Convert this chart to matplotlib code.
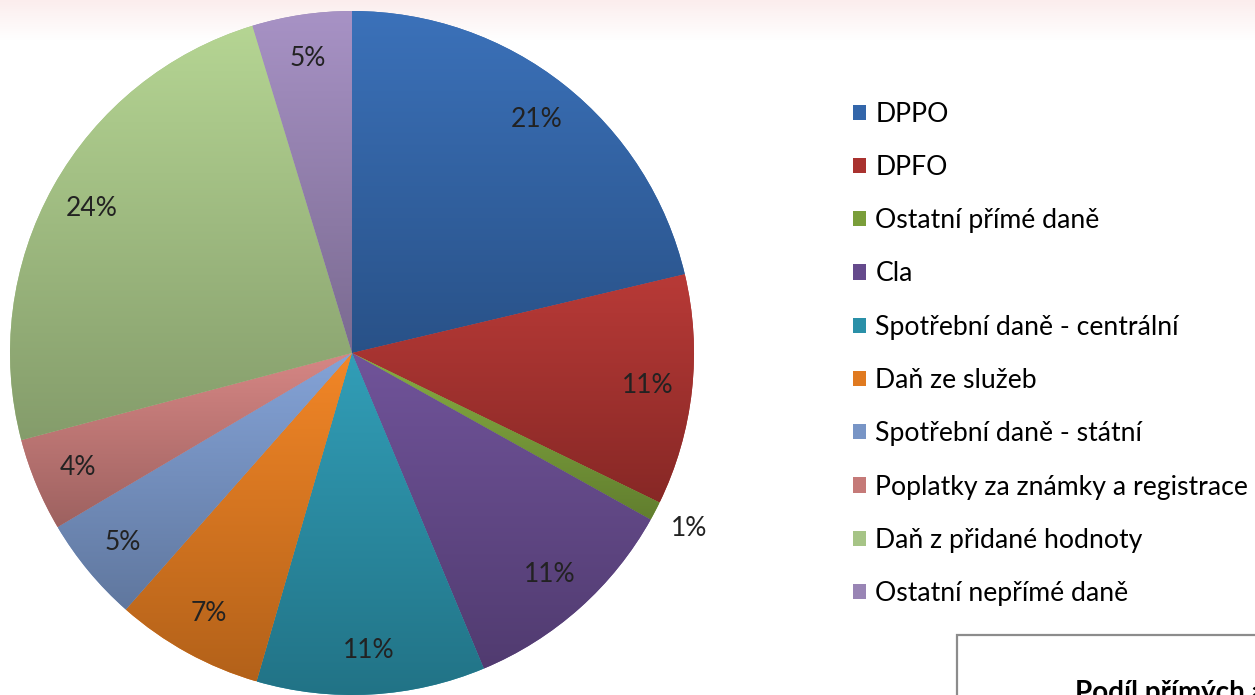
import numpy as np
import matplotlib.pyplot as plt
from matplotlib.colors import to_rgb
from matplotlib.patches import Rectangle

labels = ['DPPO', 'DPFO', 'Ostatní přímé daně', 'Cla', 'Spotřební daně - centrální',
          'Daň ze služeb', 'Spotřební daně - státní', 'Poplatky za známky a registrace',
          'Daň z přidané hodnoty', 'Ostatní nepřímé daně']
shares = [21.3, 10.9, 0.9, 10.6, 10.8, 7.0, 5.0, 4.4, 24.4, 4.7]
colors = ['#3366AA', '#A9322F', '#7A9E3A', '#654A8C', '#2A90A8',
          '#E07A20', '#7895C6', '#C57A78', '#A6C486', '#9985B5']

plt.rcParams['font.family'] = ['Lato', 'DejaVu Sans']

W, H = 1255, 695
fig = plt.figure(figsize=(W / 100, H / 100), dpi=100)

# faint pink band at the top of the slide
bg = fig.add_axes([0, 0, 1, 1], zorder=-5)
bg.axis('off')
band = np.linspace(0, 1, 100)[:, None, None]
pink = np.array(to_rgb('#FBEDED'))
img = pink[None, None, :] * (1 - band) + np.ones(3)[None, None, :] * band
img = np.repeat(img, 2, axis=1)
bg.imshow(img, extent=(0, 1, 1 - 40 / H, 1), aspect='auto', transform=bg.transAxes)
bg.set_xlim(0, 1)
bg.set_ylim(0, 1)

R = 342
cx, cy = 352, 353
ax = fig.add_axes([(cx - R) / W, (H - cy - R) / H, 2 * R / W, 2 * R / H])

wedges, texts, autotexts = ax.pie(shares, colors=colors, startangle=90, counterclock=False,
                                  autopct='%1.0f%%', pctdistance=0.87,
                                  wedgeprops=dict(linewidth=0),
                                  textprops=dict(fontsize=19, color='#222222'))

# gradient fill on every wedge (lighter at top, darker at bottom)
for w, c in zip(wedges, colors):
    base = np.array(to_rgb(c))
    th = np.radians(np.linspace(w.theta1, w.theta2, 60))
    ys = np.concatenate([[0], np.sin(th)])
    xs = np.concatenate([[0], np.cos(th)])
    t = np.linspace(0, 1, 64)[:, None]
    top = np.clip(base * 1.06 + 0.02, 0, 1)
    bot = base * 0.8
    grad = top[None, :] * (1 - t) + bot[None, :] * t
    grad = np.repeat(grad[:, None, :], 2, axis=1)
    im = ax.imshow(grad, extent=(xs.min(), xs.max(), ys.min(), ys.max()),
                   aspect='auto', zorder=1.5, interpolation='bilinear')
    im.set_clip_path(w)

for t in autotexts:
    t.set_zorder(3)

# small slice: label outside the pie
w = wedges[2]
mid = np.radians((w.theta1 + w.theta2) / 2)
autotexts[2].set_position((1.11 * np.cos(mid), 1.11 * np.sin(mid)))

ax.set_xlim(-1, 1)
ax.set_ylim(-1, 1)
ax.set_aspect('equal')
ax.axis('off')

fig.legend(wedges, labels, loc='upper left', bbox_to_anchor=(842 / W, 1 - 91 / H),
           frameon=False, fontsize=19.2, handlelength=0.5, handleheight=0.5,
           handletextpad=0.35, labelspacing=1.06, borderaxespad=0)

# box at bottom right (cut off in the screenshot)
fig.patches.append(Rectangle((957 / W, -0.1), 0.3, 0.1 + 60 / H, transform=fig.transFigure,
                             facecolor='white', edgecolor='#8C8C8C', linewidth=1.6))
fig.text(1075 / W, -6 / H, 'Podíl přímých a nepřímých daní', fontsize=20,
         fontweight='bold', color='black', va='baseline', ha='left')

fig.savefig('out.png', dpi=100)
